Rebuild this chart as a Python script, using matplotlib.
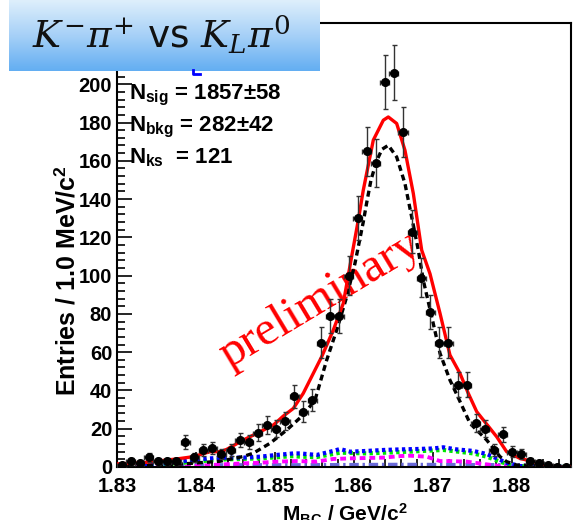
import numpy as np
import matplotlib.pyplot as plt
from matplotlib.lines import Line2D

plt.rcParams['font.family'] = 'Liberation Sans'
plt.rcParams['font.weight'] = 'bold'
plt.rcParams['mathtext.fontset'] = 'custom'
plt.rcParams['mathtext.rm'] = 'DejaVu Serif:weight=normal'
plt.rcParams['mathtext.it'] = 'DejaVu Serif:style=italic:weight=normal'
plt.rcParams['mathtext.bf'] = 'Liberation Sans:weight=bold'
plt.rcParams['mathtext.sf'] = 'DejaVu Sans:weight=normal'

# M_BC histogram, 50 bins between 1.83 and 1.8875 GeV
x_lo, x_hi, n_bins = 1.83, 1.8875, 50
counts = [1, 3, 2, 5, 3, 3, 3, 13, 5, 9,
          10, 7, 9, 14, 13, 18, 22, 20, 24, 37,
          29, 35, 65, 79, 79, 100, 130, 165, 159, 201,
          206, 175, 123, 99, 81, 65, 65, 43, 43, 23,
          20, 9, 17, 8, 7, 3, 2, 1, 0, 0]

# total fit
fit_x = [1.83000, 1.83333, 1.83756, 1.83966, 1.84178, 1.84304, 1.84389, 1.84600,
         1.84811, 1.84980, 1.85106, 1.85233, 1.85359, 1.85592, 1.85739, 1.85866,
         1.85972, 1.86056, 1.86119, 1.86246, 1.86373, 1.86436, 1.86542, 1.86647,
         1.86753, 1.86859, 1.86964, 1.87091, 1.87217, 1.87344, 1.87449, 1.87556,
         1.87809, 1.87935, 1.88104, 1.88272, 1.88442, 1.88569, 1.88750]
fit_y = [1.6, 2.3, 4.2, 5.4, 8.0, 8.0, 9.2, 14.1,
         18.4, 21.9, 26.6, 30.6, 38.5, 57.6, 71.5, 85.5,
         110, 129, 144.6, 170.8, 181.2, 182.9, 179.5, 165.5,
         142.9, 113.3, 101, 80.3, 58.5, 48.9, 38.5, 28.9,
         15.8, 8.0, 4.5, 2.8, 1.0, 0.0, 0.0]

# signal shape
sig_x = [1.83000, 1.83798, 1.84304, 1.84600, 1.84726, 1.84938, 1.85149, 1.85359,
         1.85508, 1.85656, 1.85782, 1.85909, 1.86014, 1.86119, 1.86162, 1.86217,
         1.86289, 1.86356, 1.86436, 1.86542, 1.86647, 1.86732, 1.86816, 1.86879,
         1.86986, 1.87091, 1.87217, 1.87302, 1.87471, 1.87682, 1.87851, 1.87935,
         1.88062, 1.88750]
sig_y = [0.3, 1.5, 3.0, 5.5, 7.2, 12.4, 19.3, 27.2,
         35, 55.9, 71.5, 88.9, 106.4, 128, 138, 150,
         160, 166, 168.1, 162, 148.1, 130.7, 113.3, 97.6,
         78.5, 59.4, 45.4, 38, 22.8, 14.1, 5.4, 2.8,
         1.0, 0.3]

# background components
bkg1_x = [1.83000, 1.83545, 1.83966, 1.84178, 1.84389, 1.84600, 1.84811, 1.85023,
          1.85233, 1.85318, 1.85529, 1.85739, 1.85824, 1.85951, 1.86162, 1.86373,
          1.86584, 1.86796, 1.87006, 1.87133, 1.87302, 1.87512, 1.87682, 1.87809,
          1.87935, 1.88104, 1.88750]
bkg1_y = [1.0, 1.6, 3.7, 4.5, 4.9, 4.9, 5.4, 6.3,
          7.1, 7.1, 6.3, 8.4, 9.4, 8.0, 8.4, 8.9,
          9.2, 9.4, 9.7, 10.3, 9.2, 8.4, 6.8, 4.5,
          2.2, 0.5, 0.0]

bkg2_x = [1.83000, 1.83545, 1.83966, 1.84389, 1.84811, 1.85233, 1.85318, 1.85529,
          1.85739, 1.85824, 1.86162, 1.86584, 1.87133, 1.87512, 1.87682, 1.87851,
          1.88019, 1.88750]
bkg2_y = [0.5, 1.0, 2.8, 4.0, 4.5, 5.7, 5.4, 5.2,
          6.8, 7.5, 7.1, 7.8, 8.9, 7.1, 5.4, 2.8,
          0.5, 0.0]

bkg3_x = [1.83000, 1.83756, 1.84178, 1.84600, 1.84811, 1.85023, 1.85276, 1.85529,
          1.85739, 1.85951, 1.86373, 1.86584, 1.86711, 1.86922, 1.87091, 1.87217,
          1.87429, 1.87639, 1.87851, 1.88750]
bkg3_y = [0.0, 0.0, 1.0, 1.9, 2.2, 2.8, 3.1, 2.8,
          4.2, 4.5, 4.9, 5.7, 5.9, 5.4, 3.1, 3.1,
          2.8, 1.6, 0.5, 0.0]

bkg4_x = [1.83000, 1.85318, 1.86584, 1.88104, 1.88421]
bkg4_y = [0.8, 0.8, 1.0, 0.8, 0.0]

fit_info = [('sig', '1857±58', ' '), ('bkg', '282±42', ' '), ('ks', '121', '  ')]

edges = np.linspace(x_lo, x_hi, n_bins + 1)
centers = 0.5 * (edges[:-1] + edges[1:])
counts = np.array(counts, dtype=float)
half_w = 0.5 * (edges[1] - edges[0])

W, H = 577, 520
fig = plt.figure(figsize=(W / 100, H / 100), dpi=100)
ax = fig.add_axes([117 / W, 1 - 467 / H, 454 / W, 444 / H])

ax.plot(bkg4_x, bkg4_y, color='#6a6ad8', lw=3.4, ls=(0, (2.0, 0.8, 0.5, 0.8)), zorder=2)
ax.plot(bkg3_x, bkg3_y, color='#ff00ff', lw=2.8, ls=(0, (1.5, 1.0)), zorder=2)
ax.plot(bkg2_x, bkg2_y, color='#00e600', lw=3.0, ls=(0, (0.8, 0.8)), zorder=2)
ax.plot(bkg1_x, bkg1_y, color='#0000ff', lw=3.0, ls=(0, (0.8, 0.8)), zorder=2)
ax.plot(sig_x, sig_y, color='black', lw=2.4, ls=(0, (1.8, 1.2)), zorder=3)
ax.plot(fit_x, fit_y, color='#ff0000', lw=2.4, zorder=4)

ax.errorbar(centers, counts, yerr=np.sqrt(counts), xerr=half_w, fmt='o',
            color='black', ms=5.5, ecolor='#333333', elinewidth=1.0,
            capsize=1.8, capthick=1.0, zorder=5)

ax.set_xlim(x_lo, x_hi)
ax.set_ylim(0, 232)
ax.set_xticks([1.83, 1.84, 1.85, 1.86, 1.87, 1.88])
ax.set_xticklabels(['1.83', '1.84', '1.85', '1.86', '1.87', '1.88'])
ax.set_xticks(np.arange(1.83, 1.8875, 0.002), minor=True)
ax.set_yticks(np.arange(0, 221, 20))
ax.set_yticks(np.arange(0, 232, 4), minor=True)
ax.tick_params(which='both', direction='in', width=1.2, labelsize=14.5)
ax.tick_params(which='major', length=11)
ax.tick_params(which='minor', length=6)
ax.tick_params(axis='x', pad=7.5)
ax.tick_params(axis='y', pad=3.5)
for s in ax.spines.values():
    s.set_linewidth(1.5)

# fit results
for i, (sub, val, gap) in enumerate(fit_info):
    ax.text(0.026, 0.828 - i * 0.072, r'$\mathbf{N_{%s}}$%s= %s' % (sub, gap, val),
            transform=ax.transAxes, fontsize=16, va='baseline', ha='left')

ax.text(0.447, 0.376, 'preliminary', transform=ax.transAxes, color='#ff0000',
        family='Liberation Serif', weight='normal', fontsize=35,
        rotation=31, rotation_mode='anchor', ha='center', va='center', zorder=1)

fig.text(345 / W, 1 - 521.5 / H, r'$\mathbf{M_{BC}}$ / GeV/c$^{\mathbf{2}}$',
         ha='center', va='baseline', fontsize=15)
fig.text(68 / W, 1 - 281 / H, r'Entries / 1.0 MeV/c$^{\mathbf{2}}$',
         ha='center', va='center', rotation=90, fontsize=18)

# corner of a box peeking out under the title
fig.add_artist(Line2D([193 / W, 193 / W, 200 / W], [1 - 70 / H, 1 - 74.5 / H, 1 - 74.5 / H],
                      color='#0000ff', lw=2))

# title banner with vertical blue gradient
tax = fig.add_axes([9 / W, 1 - 70.7 / H, 311 / W, 70.7 / H])
top = np.array([222, 239, 252]) / 255
mid = np.array([166, 208, 247]) / 255
bot = np.array([99, 174, 242]) / 255
t = np.linspace(0, 1, 100)[:, None]
grad = np.where(t < 0.5, top + (mid - top) * (t / 0.5), mid + (bot - mid) * ((t - 0.5) / 0.5))
tax.imshow(grad[:, None, :], aspect='auto', extent=[0, 1, 0, 1])
tax.set_axis_off()
tax.text(0.49, 0.32, r'$K^{-}\pi^{+}\ \mathsf{vs}\ K_{L}\pi^{0}$', transform=tax.transAxes,
         fontsize=27, weight='normal', ha='center', va='baseline', color='#111111')

fig.savefig('out.png', dpi=100)
